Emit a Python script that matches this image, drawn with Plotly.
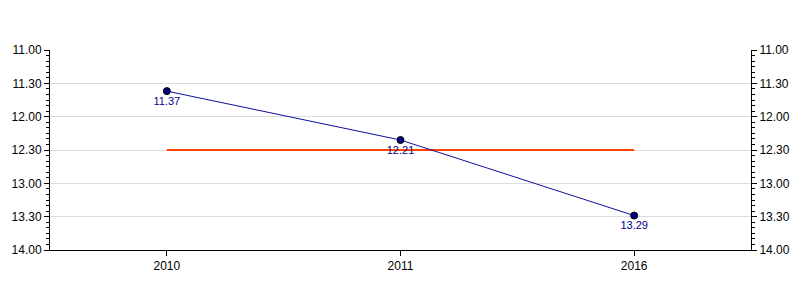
import plotly.graph_objects as go

categories = ["2010", "2011", "2016"]
time_labels = ["11.37", "12.21", "13.29"]
target_label = "12.30"
tick_labels = ["11.00", "11.30", "12.00", "12.30", "13.00", "13.30", "14.00"]


def to_minutes(s):
    m, sec = s.split(".")
    return int(m) + int(sec) / 60.0


values = [to_minutes(s) for s in time_labels]
target = to_minutes(target_label)
tick_vals = [to_minutes(s) for s in tick_labels]

font = dict(family="Liberation Sans, Arial, sans-serif", size=12, color="#000000")

fig = go.Figure()
fig.add_trace(go.Scatter(
    x=categories, y=[target] * len(categories), mode="lines",
    line=dict(color="#FF4500", width=2), hoverinfo="skip", showlegend=False))
fig.add_trace(go.Scatter(
    x=categories, y=values, mode="lines+markers+text",
    text=time_labels, textposition="bottom center",
    textfont=dict(family="Liberation Sans, Arial, sans-serif", size=11, color="#00008B"),
    line=dict(color="#1010A0", width=1),
    marker=dict(size=7, color="#000080", line=dict(color="#000000", width=1)),
    showlegend=False))
fig.add_trace(go.Scatter(
    x=categories, y=values, yaxis="y2", mode="markers",
    marker=dict(opacity=0), hoverinfo="skip", showlegend=False))

yax = dict(
    range=[14, 11], tickvals=tick_vals, ticktext=tick_labels,
    ticks="outside", ticklen=5, tickcolor="#000", tickwidth=1,
    showline=True, linecolor="#000", linewidth=1,
    showgrid=True, gridcolor="#dcdcdc", gridwidth=1,
    zeroline=False, tickfont=font, automargin=False,
    minor=dict(dtick=5 / 60, tick0=11, ticks="outside", ticklen=3,
               tickcolor="#000", showgrid=False),
)

fig.update_layout(
    width=800, height=300,
    margin=dict(l=50, r=49, t=50, b=50),
    plot_bgcolor="white", paper_bgcolor="white",
    xaxis=dict(type="category", range=[-0.5, 2.5], showline=True,
               linecolor="#000", linewidth=1, ticks="outside", ticklen=5,
               tickcolor="#000", showgrid=False, tickfont=font,
               automargin=False),
    yaxis=yax,
    yaxis2=dict(yax, overlaying="y", side="right", matches="y", showgrid=False),
)

fig.write_html("out.html")
